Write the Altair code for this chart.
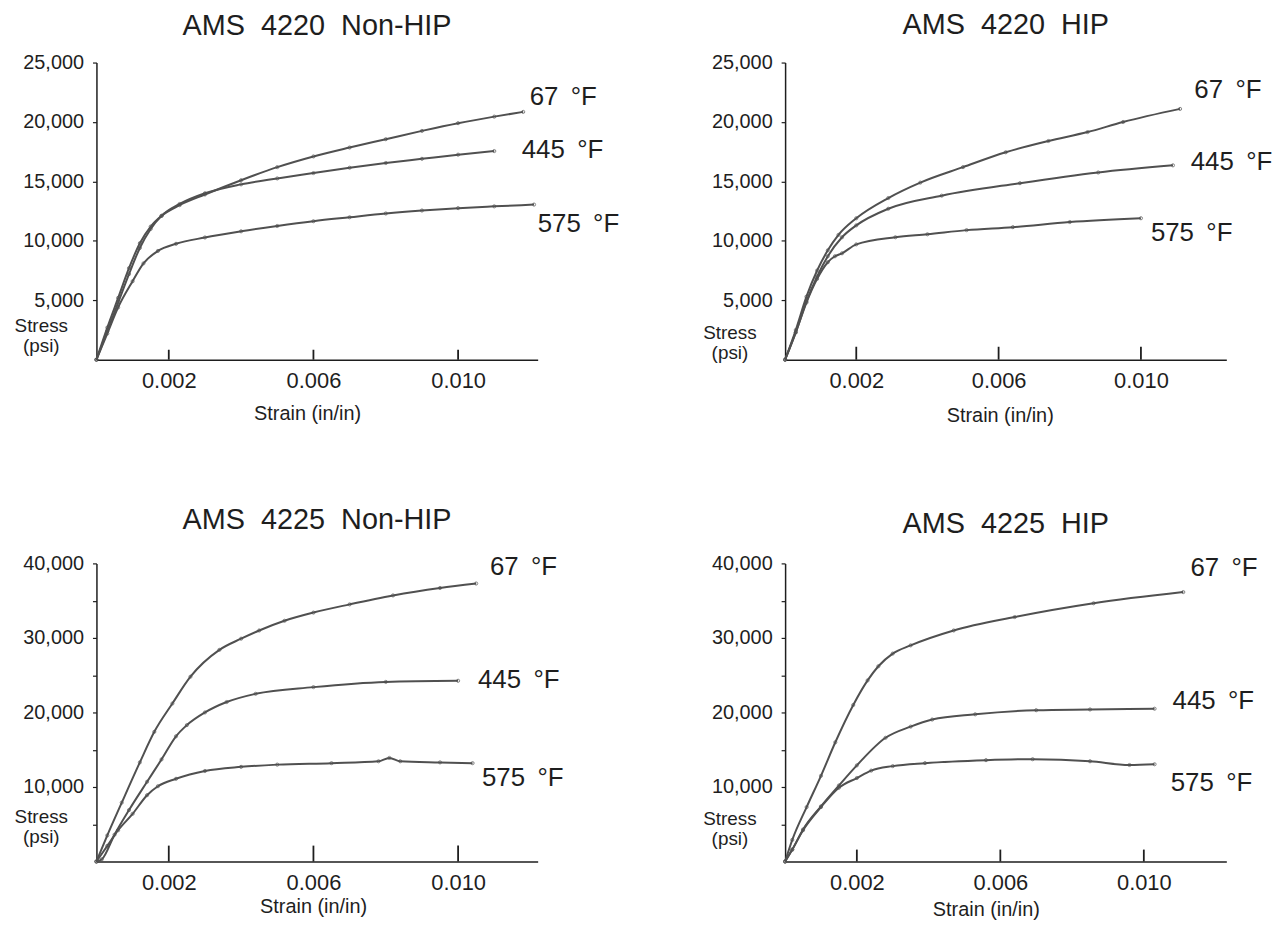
import altair as alt
import pandas as pd

FONT = "Liberation Sans, Arial, Helvetica, sans-serif"
INK = "#1e1e1e"
CURVE = "#505050"

temps = ["67 °F", "445 °F", "575 °F"]
label_text = ["67 \u2009°F", "445 \u2009°F", "575 \u2009°F"]
x_ticks = [0.002, 0.006, 0.010]
y_ticks_4220 = [5000, 10000, 15000, 20000, 25000]
y_ticks_4225 = [5000, 10000, 15000, 20000, 25000, 30000, 35000, 40000]

# ---- AMS 4220 Non-HIP ----
a67_strain = [0, 0.0003, 0.0006, 0.0009, 0.0012, 0.0015, 0.0018, 0.0023, 0.003, 0.004, 0.005, 0.006, 0.007, 0.008, 0.009, 0.010, 0.011, 0.0118]
a67_stress = [0, 2700, 5200, 7700, 9800, 11200, 12100, 13000, 13900, 15100, 16200, 17100, 17850, 18550, 19250, 19900, 20450, 20850]
a445_strain = [0, 0.0003, 0.0006, 0.0009, 0.0012, 0.0015, 0.0018, 0.0023, 0.003, 0.004, 0.005, 0.006, 0.007, 0.008, 0.009, 0.010, 0.011]
a445_stress = [0, 2400, 4800, 7200, 9400, 11000, 12100, 13100, 14000, 14750, 15250, 15700, 16150, 16550, 16900, 17250, 17550]
a575_strain = [0, 0.0003, 0.0006, 0.001, 0.0013, 0.0017, 0.0022, 0.003, 0.004, 0.005, 0.006, 0.007, 0.008, 0.009, 0.010, 0.011, 0.0121]
a575_stress = [0, 2200, 4400, 6600, 8100, 9150, 9750, 10280, 10800, 11250, 11650, 11980, 12300, 12550, 12750, 12900, 13050]
a_label_strain = [0.01198, 0.01176, 0.0122]
a_label_stress = [22070, 17640, 11370]

# ---- AMS 4220 HIP ----
b67_strain = [0, 0.0003, 0.0006, 0.0009, 0.0012, 0.0015, 0.002, 0.0029, 0.0038, 0.005, 0.0062, 0.0074, 0.0085, 0.0095, 0.0111]
b67_stress = [0, 2500, 5300, 7500, 9200, 10500, 11900, 13600, 14900, 16200, 17450, 18400, 19150, 20000, 21100]
b445_strain = [0, 0.0003, 0.0006, 0.0009, 0.0012, 0.0016, 0.002, 0.0029, 0.0044, 0.0066, 0.0088, 0.0109]
b445_stress = [0, 2300, 4900, 7000, 8700, 10300, 11300, 12700, 13800, 14850, 15750, 16350]
b575_strain = [0, 0.0003, 0.0006, 0.0009, 0.0012, 0.0014, 0.0016, 0.002, 0.0031, 0.004, 0.0051, 0.0064, 0.008, 0.010]
b575_stress = [0, 2300, 4800, 6800, 8200, 8700, 8950, 9700, 10300, 10550, 10900, 11150, 11580, 11900]
b_label_strain = [0.0115, 0.0114, 0.01028]
b_label_stress = [22650, 16610, 10650]

# ---- AMS 4225 Non-HIP ----
c67_strain = [0, 0.0003, 0.0007, 0.0012, 0.0016, 0.0021, 0.0026, 0.0034, 0.004, 0.0045, 0.0052, 0.006, 0.007, 0.0082, 0.0095, 0.0105]
c67_stress = [0, 3500, 7900, 13300, 17400, 21200, 24800, 28400, 29900, 31000, 32300, 33400, 34500, 35700, 36700, 37300]
c445_strain = [0, 0.00015, 0.0005, 0.0009, 0.0014, 0.0018, 0.0022, 0.0025, 0.003, 0.0036, 0.0044, 0.006, 0.008, 0.010]
c445_stress = [0, 300, 3600, 6900, 10700, 13700, 16800, 18300, 20000, 21400, 22500, 23400, 24100, 24250]
c575_strain = [0, 0.0003, 0.0006, 0.001, 0.0014, 0.0017, 0.0022, 0.003, 0.004, 0.005, 0.0065, 0.0078, 0.0081, 0.0084, 0.0095, 0.0104]
c575_stress = [0, 2100, 4200, 6400, 8900, 10100, 11100, 12150, 12700, 13000, 13200, 13450, 13900, 13450, 13300, 13200]
c_label_strain = [0.01088, 0.01055, 0.01066]
c_label_stress = [39470, 24400, 11200]

# ---- AMS 4225 HIP ----
d67_strain = [0, 0.0002, 0.0006, 0.001, 0.0014, 0.0019, 0.0023, 0.0026, 0.003, 0.0035, 0.0047, 0.0064, 0.0086, 0.0111]
d67_stress = [0, 2900, 7300, 11500, 16000, 21000, 24300, 26200, 27900, 29000, 31000, 32800, 34650, 36150]
d445_strain = [0, 0.0002, 0.0005, 0.001, 0.0015, 0.002, 0.0028, 0.0035, 0.0041, 0.0053, 0.007, 0.0085, 0.0103]
d445_stress = [0, 1600, 4300, 7400, 10200, 12900, 16600, 18100, 19050, 19750, 20300, 20400, 20500]
d575_strain = [0, 0.0002, 0.0005, 0.001, 0.0015, 0.002, 0.0024, 0.003, 0.0039, 0.0056, 0.0069, 0.0085, 0.0096, 0.0103]
d575_stress = [0, 1600, 4200, 7300, 9900, 11200, 12200, 12800, 13200, 13600, 13730, 13450, 12950, 13050]
d_label_strain = [0.0113, 0.0108, 0.01075]
d_label_stress = [39330, 21480, 10470]


def curves_df(series):
    rows = []
    for t, (xs, ys) in zip(temps, series):
        for x, y in zip(xs, ys):
            rows.append({"strain": x, "stress": y, "temp": t})
    return pd.DataFrame(rows)


def panel(title, series, lab_x, lab_y, xmax, ymax, yvals, minor_labels,
          tick_len, stress_y, strain_x, strain_y, title_offset, height):
    W = 444
    df = curves_df(series)
    labels = pd.DataFrame({"strain": lab_x, "stress": lab_y, "label": label_text})
    # inward x-axis tick marks, from the axis up by tick_len pixels
    tick_top = tick_len * ymax / height
    ticks = pd.DataFrame({
        "strain": x_ticks,
        "stress": [0] * len(x_ticks),
        "stress_top": [tick_top] * len(x_ticks),
    })

    xscale = alt.Scale(domain=[0, xmax], nice=False, zero=True)
    yscale = alt.Scale(domain=[0, ymax], nice=False, zero=True)
    yaxis_kw = dict(
        values=yvals, format=",d", tickSize=4, tickWidth=1.2, labelPadding=9,
        labelFontSize=20, labelFlush=False, labelOverlap=False,
        title=["Stress", "(psi)"], titleAngle=0, titleX=-56, titleY=stress_y,
        titleAlign="center", titleBaseline="alphabetic", titleFontSize=19,
        titleLineHeight=20, domainWidth=1.5,
    )
    if minor_labels:
        yaxis_kw["labelExpr"] = "datum.value % 10000 === 0 ? format(datum.value, ',') : ''"
    yaxis = alt.Axis(**yaxis_kw)
    xaxis = alt.Axis(
        values=x_ticks, format=".3f", ticks=False, labelFontSize=22,
        labelPadding=11, labelFlush=False, labelOverlap=False,
        title="Strain (in/in)", titleFontSize=20, titleX=strain_x,
        titleY=strain_y, titleAlign="center", titleBaseline="alphabetic",
        domainWidth=1.5,
    )
    X = alt.X("strain:Q", scale=xscale, axis=xaxis)
    Y = alt.Y("stress:Q", scale=yscale, axis=yaxis)

    lines = alt.Chart(df).mark_line(
        color=CURVE, strokeWidth=2, interpolate="monotone"
    ).encode(x=X, y=Y, detail="temp:N")
    pts = alt.Chart(df).mark_point(
        shape="circle", size=10, color=CURVE, strokeWidth=1, filled=False
    ).encode(x=X, y=Y, detail="temp:N")
    tick_rules = alt.Chart(ticks).mark_rule(color=INK, strokeWidth=1.8).encode(
        x=X, y=Y, y2="stress_top:Q"
    )
    text = alt.Chart(labels).mark_text(
        align="left", baseline="middle", font=FONT, fontSize=26, color=INK
    ).encode(x=X, y=Y, text="label:N")

    return alt.layer(lines, pts, tick_rules, text).properties(
        width=W, height=height,
        title=alt.TitleParams(
            title, fontSize=29, font=FONT, fontWeight="normal", color=INK,
            anchor="middle", frame="group", baseline="alphabetic",
            offset=title_offset,
        ),
    )


p1 = panel("AMS\u00a0 4220\u00a0 Non-HIP",
           [(a67_strain, a67_stress), (a445_strain, a445_stress), (a575_strain, a575_stress)],
           a_label_strain, a_label_stress, 0.0122, 25000, y_ticks_4220, False,
           10, 271, 212, 60, -11, 299)
p2 = panel("AMS\u00a0 4220\u00a0 HIP",
           [(b67_strain, b67_stress), (b445_strain, b445_stress), (b575_strain, b575_stress)],
           b_label_strain, b_label_stress, 0.0124, 25000, y_ticks_4220, False,
           13, 278, 216, 62, -10, 299)
p3 = panel("AMS\u00a0 4225\u00a0 Non-HIP",
           [(c67_strain, c67_stress), (c445_strain, c445_stress), (c575_strain, c575_stress)],
           c_label_strain, c_label_stress, 0.0122, 40000, y_ticks_4225, True,
           16, 261, 218, 51, -4, 300)
p4 = panel("AMS\u00a0 4225\u00a0 HIP",
           [(d67_strain, d67_stress), (d445_strain, d445_stress), (d575_strain, d575_stress)],
           d_label_strain, d_label_stress, 0.0123, 40000, y_ticks_4225, True,
           12, 263, 202, 54, -8, 300)

chart = alt.concat(
    p1, p2, p3, p4, columns=2, spacing={"row": 205, "column": 249}, bounds="flush"
).properties(
    padding={"left": 6, "top": 0, "right": 5, "bottom": 5},
    background="white",
).configure_view(stroke=None).configure_axis(
    grid=False, domainColor=INK, tickColor=INK, labelColor=INK,
    titleColor=INK, labelFont=FONT, titleFont=FONT, titleFontWeight="normal",
)

chart.save("out.html", embed_options={"renderer": "svg", "actions": False})
